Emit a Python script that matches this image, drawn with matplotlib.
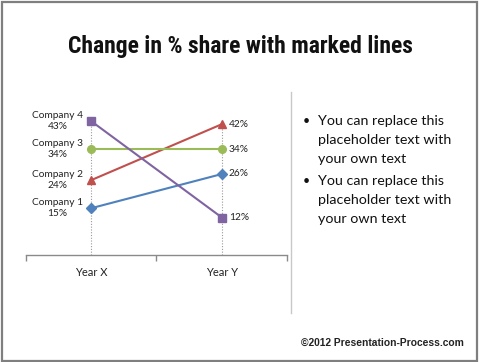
import matplotlib
matplotlib.use("Agg")
import matplotlib.pyplot as plt
from matplotlib.patches import Rectangle
from matplotlib.lines import Line2D
from matplotlib import font_manager as fm

categories = ["Year X", "Year Y"]
companies = ["Company 1", "Company 2", "Company 3", "Company 4"]
year_x = [15, 24, 34, 43]
year_y = [26, 42, 34, 12]
colors = ["#4F81BD", "#C0504D", "#9BBB59", "#8064A2"]
markers = ["D", "^", "o", "s"]
title = "Change in % share with marked lines"
bullet_lines = ["You can replace this", "placeholder text with", "your own text"]
copyright_text = "\u00a92012 Presentation-Process.com"

W, H = 480, 362
fig = plt.figure(figsize=(W / 100, H / 100), dpi=100)

def fx(px):
    return px / W

def fy(py):
    return 1 - py / H

# choose a condensed font for the title if one exists
title_kw = None
names = {f.name for f in fm.fontManager.ttflist}
for cand in ["Liberation Sans Narrow", "DejaVu Sans Condensed", "Roboto Condensed", "Open Sans Condensed"]:
    if cand in names:
        title_kw = dict(family=[cand, "DejaVu Sans"], fontsize=17, fontweight="bold")
        break
if title_kw is None:
    cond = [f for f in fm.fontManager.ttflist if f.name == "DejaVu Sans" and f.stretch in ("condensed", "semi-condensed")]
    if cond:
        title_kw = dict(family=["DejaVu Sans"], stretch="condensed", fontsize=16)
    else:
        title_kw = dict(family=["Roboto", "DejaVu Sans"], fontsize=15.5)

# frame
fig.patches.append(Rectangle((fx(2), fy(360.5)), fx(475), (358.5) / H, transform=fig.transFigure,
                             fill=False, edgecolor="#7f7f7f", linewidth=1.6))

fig.text(0.5, fy(47), title, ha="center", va="center", color="#111111", **title_kw)

# chart
ax = fig.add_axes([fx(25.5), fy(255), fx(262), 155.8 / H])
ax.set_xlim(-0.5, 1.5)
ax.set_ylim(0, 50)
xs = [0, 1]
for i in range(4):
    ax.plot(xs, [year_x[i], year_y[i]], color=colors[i], lw=1.5, marker=markers[i],
            markersize=5.5 if markers[i] != "D" else 5, markerfacecolor=colors[i],
            markeredgecolor=colors[i], zorder=3)
# drop lines
for j, vals in enumerate([year_x, year_y]):
    ax.plot([xs[j], xs[j]], [0, max(vals)], color="#9a9a9a", lw=0.8, ls=(0, (1, 1.5)), zorder=1)

lab_font = ["Lato", "DejaVu Sans"]
for i in range(4):
    ax.annotate(f"{companies[i]}\n{year_x[i]}%", (0, year_x[i]), xytext=(-24, 0),
                textcoords="offset points", ha="center", va="center", fontsize=7.3,
                family=lab_font, color="#222222", linespacing=1.3)
    ax.annotate(f"{year_y[i]}%", (1, year_y[i]), xytext=(5, 0), textcoords="offset points",
                ha="left", va="center", fontsize=7.3, family=lab_font, color="#222222")

for s in ["top", "right", "left"]:
    ax.spines[s].set_visible(False)
ax.spines["bottom"].set_color("#8a8a8a")
ax.spines["bottom"].set_linewidth(1.0)
ax.set_yticks([])
ax.set_xticks([-0.5, 0.5, 1.5])
ax.set_xticklabels([])
ax.tick_params(axis="x", length=4, color="#8a8a8a", width=1.0)
ax.set_xticks(xs, minor=True)
ax.set_xticklabels(categories, minor=True, fontsize=8, family=lab_font, color="#222222")
ax.tick_params(axis="x", which="minor", length=0, pad=9)

# divider
fig.add_artist(Line2D([fx(291), fx(291)], [fy(92), fy(313)], color="#c8c8c8", lw=1.0))

# bullets
for k in range(2):
    y0 = 121 + k * 60
    fig.text(fx(303), fy(y0), "\u2022", ha="left", va="center", fontsize=9, family=lab_font, color="#111111")
    for m, line in enumerate(bullet_lines):
        fig.text(fx(318), fy(y0 + m * 19), line, ha="left", va="center", fontsize=10.3,
                 family=lab_font, color="#111111")

fig.text(fx(301), fy(343), copyright_text, ha="left", va="center", fontsize=7.4,
         family=["Liberation Sans", "DejaVu Sans"], fontweight="bold", color="#222222")

fig.savefig("out.png", dpi=100)
